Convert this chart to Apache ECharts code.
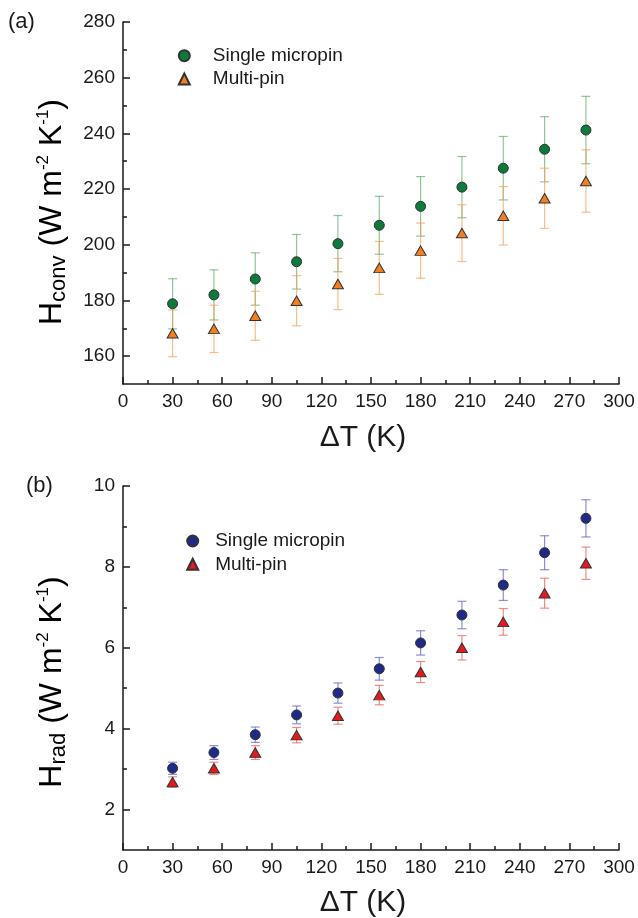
<!DOCTYPE html>
<html><head><meta charset="utf-8">
<script src="https://cdn.jsdelivr.net/npm/echarts@6/dist/echarts.min.js"></script>
<style>html,body{margin:0;padding:0;background:#fff}#c{width:638px;height:918px}</style>
</head><body><div id="c"></div>
<script>
// ---- data ----
const deltaT = [30, 55, 80, 105, 130, 155, 180, 205, 230, 255, 280];
const convSingle    = [178.8, 182.0, 187.7, 193.9, 200.4, 207.0, 213.8, 220.7, 227.5, 234.3, 241.2];
const convSingleErr = [9.0, 9.0, 9.4, 9.8, 10.1, 10.4, 10.7, 11.0, 11.4, 11.7, 12.1];
const convMulti     = [168.2, 169.8, 174.5, 179.9, 185.9, 191.7, 197.9, 204.2, 210.4, 216.7, 222.9];
const convMultiErr  = [8.4, 8.5, 8.8, 9.0, 9.2, 9.5, 9.9, 10.2, 10.5, 10.8, 11.2];
const radSingle     = [3.02, 3.41, 3.85, 4.34, 4.88, 5.48, 6.12, 6.81, 7.55, 8.35, 9.20];
const radSingleErr  = [0.15, 0.17, 0.19, 0.22, 0.25, 0.28, 0.30, 0.34, 0.38, 0.42, 0.46];
const radMulti      = [2.68, 3.02, 3.41, 3.84, 4.32, 4.83, 5.40, 6.00, 6.64, 7.35, 8.09];
const radMultiErr   = [0.13, 0.15, 0.17, 0.19, 0.21, 0.24, 0.26, 0.30, 0.33, 0.37, 0.40];
const convMajorTicks = [160, 180, 200, 220, 240, 260, 280];
const convMinorTicks = [170, 190, 210, 230, 250, 270];
const radMajorTicks = [2, 4, 6, 8, 10];
const radMinorTicks = [3, 5, 7, 9];
const nameSingle = 'Single micropin';
const nameMulti = 'Multi-pin';

const FONT = "'Liberation Sans', Arial, sans-serif";
const INK = '#1a1a1a';
const chart = echarts.init(document.getElementById('c'), null, {renderer: 'canvas'});

function pts(v, e) { return deltaT.map((x, i) => e ? [x, v[i], e[i]] : [x, v[i]]); }
function errRender(color) {
  return function (params, api) {
    const x = api.value(0), y = api.value(1), e = api.value(2);
    const t = api.coord([x, y + e]), b = api.coord([x, y - e]);
    const hw = 4.5, st = {stroke: color, lineWidth: 1.2};
    return {type: 'group', children: [
      {type: 'line', shape: {x1: t[0], y1: t[1], x2: b[0], y2: b[1]}, style: st},
      {type: 'line', shape: {x1: t[0] - hw, y1: t[1], x2: t[0] + hw, y2: t[1]}, style: st},
      {type: 'line', shape: {x1: b[0] - hw, y1: b[1], x2: b[0] + hw, y2: b[1]}, style: st}
    ]};
  };
}
const axisLine = {show: true, lineStyle: {color: INK, width: 1.5}};
function xAx(gi) {
  return {gridIndex: gi, type: 'value', min: 0, max: 300, interval: 30,
    axisLine: axisLine,
    axisTick: {show: true, inside: true, length: 7, lineStyle: {color: INK, width: 1.5}},
    minorTick: {show: true, splitNumber: 2, length: 4, lineStyle: {color: INK, width: 1.5}},
    axisLabel: {fontSize: 19, fontFamily: FONT, color: INK, margin: 8},
    splitLine: {show: false}};
}
function yMain(gi, min, max, ticks) {
  return {gridIndex: gi, type: 'value', min: min, max: max,
    axisLine: axisLine,
    axisTick: {show: true, inside: true, length: 7, customValues: ticks, lineStyle: {color: INK, width: 1.5}},
    axisLabel: {fontSize: 19, fontFamily: FONT, color: INK, margin: 8, customValues: ticks},
    splitLine: {show: false}};
}
function yMinor(gi, min, max, ticks) {
  return {gridIndex: gi, type: 'value', min: min, max: max, position: 'left',
    axisLine: {show: false},
    axisTick: {show: true, inside: true, length: 4, customValues: ticks, lineStyle: {color: INK, width: 1.5}},
    axisLabel: {show: false}, splitLine: {show: false}};
}
function legend(left, top, names, pad) {
  return {data: names, orient: 'vertical', left: left, top: top, itemWidth: 11, itemHeight: 11,
    itemGap: 3.3, selectedMode: false,
    formatter: n => n.replace(' (b)', ''),
    textStyle: {fontSize: 19, fontFamily: FONT, color: INK, lineHeight: 20, padding: [0, 0, 0, pad]}};
}
const titleRich = {
  n: {fontSize: 32, fontFamily: FONT, color: INK, lineHeight: 35},
  sub: {fontSize: 22, fontFamily: FONT, color: INK, lineHeight: 26, verticalAlign: 'bottom'},
  sup: {fontSize: 17, fontFamily: FONT, color: INK, lineHeight: 17, verticalAlign: 'top'}
};
function yTitle(x, y, sub) {
  return {type: 'text', x: x, y: y, rotation: Math.PI / 2,
    style: {text: '{n|H}{sub|' + sub + '}{n| (W m}{sup|-2}{n| K}{sup|-1}{n|)}', rich: titleRich,
      align: 'center', verticalAlign: 'middle'}};
}
function plainText(x, y, text, size, align) {
  return {type: 'text', x: x, y: y,
    style: {text: text, font: size + 'px ' + FONT, fill: INK, align: align || 'center', verticalAlign: 'middle'}};
}

const mk = {borderColor: '#333', borderWidth: 1, opacity: 1};
const option = {
  backgroundColor: '#fff',
  animation: false,
  grid: [
    {left: 123, top: 22, width: 496, height: 362},
    {left: 123, top: 486, width: 496, height: 364}
  ],
  xAxis: [xAx(0), xAx(1)],
  yAxis: [yMain(0, 150, 280, convMajorTicks), yMinor(0, 150, 280, convMinorTicks),
          yMain(1, 1, 10, radMajorTicks), yMinor(1, 1, 10, radMinorTicks)],
  legend: [legend(172.8, 40.7, [nameSingle, nameMulti], 18),
           legend(181.2, 526, [nameSingle + ' (b)', nameMulti + ' (b)'], 12)],
  series: [
    {type: 'custom', xAxisIndex: 0, yAxisIndex: 0, data: pts(convSingle, convSingleErr), encode: {x: 0, y: 1},
      renderItem: errRender('rgba(70,160,80,0.6)'), z: 2, silent: true},
    {type: 'custom', xAxisIndex: 0, yAxisIndex: 0, data: pts(convMulti, convMultiErr), encode: {x: 0, y: 1},
      renderItem: errRender('rgba(246,160,90,0.7)'), z: 2, silent: true},
    {type: 'custom', xAxisIndex: 1, yAxisIndex: 2, data: pts(radSingle, radSingleErr), encode: {x: 0, y: 1},
      renderItem: errRender('rgba(110,115,200,0.8)'), z: 2, silent: true},
    {type: 'custom', xAxisIndex: 1, yAxisIndex: 2, data: pts(radMulti, radMultiErr), encode: {x: 0, y: 1},
      renderItem: errRender('rgba(240,110,100,0.8)'), z: 2, silent: true},
    {name: nameSingle, type: 'scatter', xAxisIndex: 0, yAxisIndex: 0, data: pts(convSingle),
      symbol: 'circle', symbolSize: 10, itemStyle: Object.assign({color: '#0b7a3b'}, mk), z: 5},
    {name: nameMulti, type: 'scatter', xAxisIndex: 0, yAxisIndex: 0, data: pts(convMulti),
      symbol: 'triangle', symbolSize: [11, 9.5], itemStyle: Object.assign({color: '#f28021'}, mk), z: 5},
    {name: nameSingle + ' (b)', type: 'scatter', xAxisIndex: 1, yAxisIndex: 2, data: pts(radSingle),
      symbol: 'circle', symbolSize: 10, itemStyle: Object.assign({color: '#1f2a88'}, mk), z: 5},
    {name: nameMulti + ' (b)', type: 'scatter', xAxisIndex: 1, yAxisIndex: 2, data: pts(radMulti),
      symbol: 'triangle', symbolSize: [11, 9.5], itemStyle: Object.assign({color: '#e41b1e'}, mk), z: 5}
  ],
  graphic: [
    plainText(8, 22, '(a)', 22, 'left'),
    plainText(26, 486, '(b)', 22, 'left'),
    plainText(363, 438, 'ΔT (K)', 30),
    plainText(363, 903, 'ΔT (K)', 30),
    yTitle(52, 212, 'conv'),
    yTitle(52, 682, 'rad')
  ]
};
chart.setOption(option);
</script></body></html>
